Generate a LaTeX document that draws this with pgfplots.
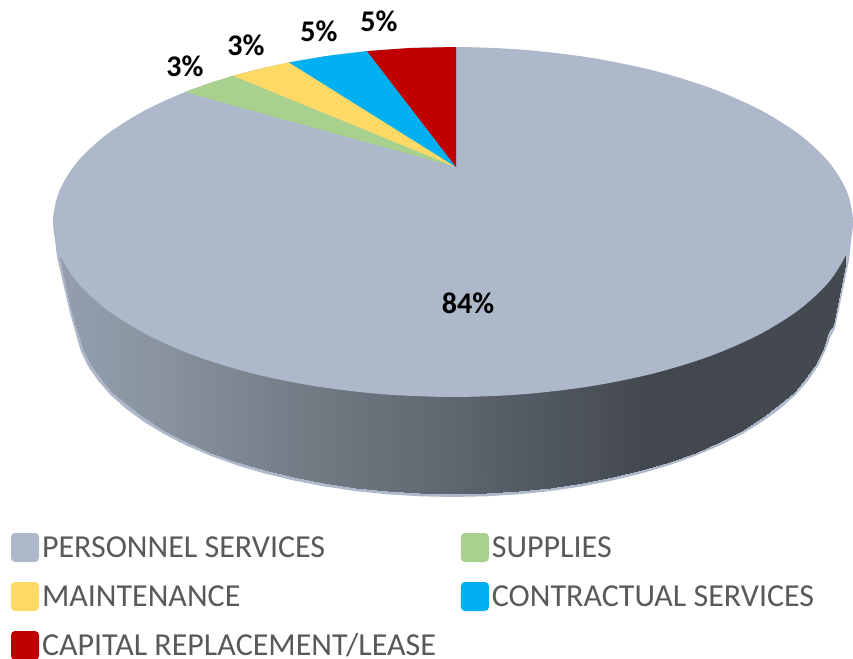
\documentclass[border=0pt]{standalone}
\usepackage{fontspec}
\setmainfont{Carlito}
\usepackage{pgfplots}
\pgfplotsset{compat=1.18}

\definecolor{cpers}{HTML}{ADB9CA}
\definecolor{csupp}{HTML}{A9D18E}
\definecolor{cmain}{HTML}{FFD966}
\definecolor{ccont}{HTML}{00B0F0}
\definecolor{ccapi}{HTML}{C00000}
\definecolor{ctext}{HTML}{595959}

\newcommand{\swatch}[1]{\fill[#1,rounded corners=4pt] (0pt,-14.5pt) rectangle (28pt,14.5pt);}

\begin{document}
\begin{tikzpicture}
\useasboundingbox (0pt,0pt) rectangle (853pt,658pt);
\begin{axis}[
    hide axis,
    scale only axis,
    width=853pt,
    height=658pt,
    xmin=0, xmax=853,
    ymin=0, ymax=658,
    clip=false,
    colormap={wall}{
        rgb255(0pt)=(148,158,174);
        rgb255(90pt)=(138,149,161);
        rgb255(240pt)=(116,124,134);
        rgb255(390pt)=(95,102,111);
        rgb255(590pt)=(67,72,80);
        rgb255(786pt)=(68,72,79)
    },
    legend columns=2,
    legend cell align=left,
    legend style={
        at={(axis cs:11,-2)},
        anchor=south west,
        draw=none,
        fill=none,
        inner sep=0pt,
        outer sep=0pt,
        font=\fontsize{32}{32}\selectfont\color{ctext},
        row sep=20pt,
        nodes={inner sep=0pt, outer sep=0pt},
        /tikz/every odd column/.append style={column sep=3pt},
        /tikz/every even column/.append style={column sep=25pt},
    },
]
% light rim below the wall
\addplot[forget plot, draw=none, fill=cpers] coordinates {
    (53,436) (57,401) (70,345) (76.4,322.6) (80.7,307.3) (87.9,292.2) (97.8,277.5)
    (110.4,263.2) (125.7,249.5) (143.4,236.5) (163.5,224.2) (185.7,212.8) (210,202.4)
    (236.2,193) (264,184.7) (293.3,177.6) (323.7,171.7) (355.2,167) (387.4,163.7)
    (420,161.7) (453,161) (486,161.7) (518.6,163.7) (550.8,167) (582.3,171.7)
    (612.7,177.6) (642,184.7) (669.8,193) (696,202.4) (720.3,212.8) (742.5,224.2)
    (762.6,236.5) (780.3,249.5) (795.6,263.2) (808.2,277.5) (818.1,292.2) (825.3,307.3)
    (830,320) (835,330) (849,398) (853,436)
} --cycle;
% shaded wall, one row along the top (hidden by the top face), one along the bottom
\addplot[forget plot, surf, shader=interp, mesh/rows=2, point meta=x,
    point meta min=60, point meta max=846] table[row sep=\\] {
    x y\\
    60 400\\ 72 436\\ 78.4 436\\ 82.7 436\\ 89.8 436\\ 99.8 436\\ 112.2 436\\ 127.7 436\\
    145 436\\ 165 436\\ 187 436\\ 211.3 436\\ 237.3 436\\ 265 436\\ 294.1 436\\ 324.4 436\\
    355.7 436\\ 387.7 436\\ 420.2 436\\ 453 436\\ 485.8 436\\ 518.3 436\\ 550.3 436\\
    581.6 436\\ 611.9 436\\ 641 436\\ 668.7 436\\ 694.7 436\\ 719 436\\ 741 436\\ 761 436\\
    778.3 436\\ 793.8 436\\ 806.2 436\\ 816.2 436\\ 823.3 436\\ 827.6 436\\ 832.5 436\\
    845.5 398\\
    60 400\\ 72 345\\ 78.4 325.6\\ 82.7 310.3\\ 89.8 295.2\\ 99.8 280.5\\ 112.2 266.2\\
    127.7 252.5\\ 145 239.5\\ 165 227.2\\ 187 215.8\\ 211.3 205.4\\ 237.3 196\\ 265 187.7\\
    294.1 180.6\\ 324.4 174.7\\ 355.7 170\\ 387.7 166.7\\ 420.2 164.7\\ 453 164\\
    485.8 164.7\\ 518.3 166.7\\ 550.3 170\\ 581.6 174.7\\ 611.9 180.6\\ 641 187.7\\
    668.7 196\\ 694.7 205.4\\ 719 215.8\\ 741 227.2\\ 761 239.5\\ 778.3 252.5\\ 793.8 266.2\\
    806.2 280.5\\ 816.2 295.2\\ 823.3 310.3\\ 827.6 325.6\\ 832.5 333\\ 845.5 398\\
};
% top face: personnel services
\addplot[draw=none, fill=cpers, smooth cycle,
    legend image code/.code={\swatch{cpers}}] coordinates {
    (853,436) (846.9,466.4) (828.9,495.9) (799.4,523.5) (759.4,548.5) (710.1,570.1)
    (653,587.6) (589.8,600.4) (522.4,608.3) (453,611) (383.6,608.3) (316.2,600.4)
    (253,587.6) (195.9,570.1) (146.6,548.5) (106.6,523.5) (77.1,495.9) (59.1,466.4)
    (53,436) (59.1,405.6) (77.1,376.1) (106.6,348.5) (146.6,323.5) (195.9,301.9)
    (253,284.4) (316.2,271.6) (383.6,263.7) (453,261) (522.4,263.7) (589.8,271.6)
    (653,284.4) (710.1,301.9) (759.4,323.5) (799.4,348.5) (828.9,376.1) (846.9,405.6)
};
\addlegendentry{PERSONNEL SERVICES}
% the small slices, all from the apex
\addplot[draw=none, fill=csupp, legend image code/.code={\swatch{csupp}}] coordinates {
    (456,491) (233,582.2) (209,574.7) (185,565.9)
} --cycle;
\addlegendentry{SUPPLIES}
\addplot[draw=none, fill=cmain, legend image code/.code={\swatch{cmain}}] coordinates {
    (456,491) (289,595.6) (261,589.5) (233,582.2)
} --cycle;
\addlegendentry{MAINTENANCE}
\addplot[draw=none, fill=ccont, legend image code/.code={\swatch{ccont}}] coordinates {
    (456,491) (367,606.9) (328,602.2) (289,595.6)
} --cycle;
\addlegendentry{CONTRACTUAL SERVICES}
\addplot[draw=none, fill=ccapi, legend image code/.code={\swatch{ccapi}}] coordinates {
    (456,491) (456,611) (410,610) (367,606.9)
} --cycle;
\addlegendentry{CAPITAL REPLACEMENT/LEASE}

\node[font=\fontsize{30}{30}\selectfont\bfseries] at (axis cs:468,355) {84\%};
\node[font=\fontsize{30}{30}\selectfont\bfseries] at (axis cs:379,637) {5\%};
\node[font=\fontsize{30}{30}\selectfont\bfseries] at (axis cs:319,627) {5\%};
\node[font=\fontsize{30}{30}\selectfont\bfseries] at (axis cs:246,613) {3\%};
\node[font=\fontsize{30}{30}\selectfont\bfseries] at (axis cs:185,592) {3\%};
\end{axis}
\end{tikzpicture}
\end{document}
